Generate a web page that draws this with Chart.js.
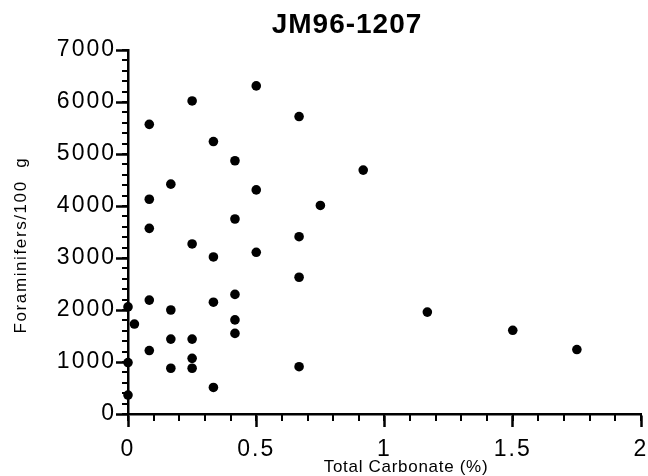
<!DOCTYPE html>
<html>
<head>
<meta charset="utf-8">
<script src="https://cdn.jsdelivr.net/npm/chart.js@4/dist/chart.umd.min.js"></script>
<style>
  html, body { margin: 0; padding: 0; background: #fff; }
  canvas { display: block; }
</style>
</head>
<body>
<canvas id="chart" width="648" height="476"></canvas>
<script>
// chart data
const chartTitle = 'JM96-1207';
const xTitle = 'Total Carbonate (%)';
const yTitle = 'Foraminifers/100  g';

const carbonate = [
  0, 0, 0,
  0.025,
  0.083, 0.083, 0.083, 0.083, 0.083,
  0.167, 0.167, 0.167, 0.167,
  0.25, 0.25, 0.25, 0.25, 0.25,
  0.333, 0.333, 0.333, 0.333,
  0.417, 0.417, 0.417, 0.417, 0.417,
  0.5, 0.5, 0.5,
  0.667, 0.667, 0.667, 0.667,
  0.75,
  0.917,
  1.167,
  1.5,
  1.75
];
const forams = [
  365, 990, 2060,
  1730,
  1220, 2190, 3570, 4130, 5570,
  880, 1440, 2000, 4420,
  880, 1070, 1440, 3270, 6020,
  510, 2150, 3020, 5240,
  1550, 1810, 2300, 3750, 4870,
  3110, 4310, 6310,
  910, 2630, 3410, 5720,
  4010,
  4690,
  1960,
  1610,
  1240
];

const xRange = [0, 2];
const yRange = [0, 7000];
const xMajor = 0.5, xMinor = 0.1;
const yMajor = 1000, yMinor = 200;

const points = carbonate.map((x, i) => ({ x: x, y: forams[i] }));

const FONT = '"Liberation Sans", Arial, Helvetica, sans-serif';

// minor ticks + hand placed titles
const axisDecor = {
  id: 'axisDecor',
  beforeDraw(chart) {
    chart.ctx.letterSpacing = '2px';
  },
  afterDraw(chart) {
    const ctx = chart.ctx;
    const xs = chart.scales.x, ys = chart.scales.y;
    const area = chart.chartArea;
    ctx.save();
    ctx.strokeStyle = '#000';
    ctx.lineWidth = 2;
    ctx.beginPath();
    for (let v = xs.min; v <= xs.max + 1e-9; v += xMinor) {
      const px = Math.round(xs.getPixelForValue(v));
      ctx.moveTo(px, area.bottom);
      ctx.lineTo(px, area.bottom + 7);
    }
    for (let v = ys.min; v <= ys.max + 1e-9; v += yMinor) {
      const py = Math.round(ys.getPixelForValue(v));
      ctx.moveTo(area.left, py);
      ctx.lineTo(area.left - 6, py);
    }
    ctx.stroke();

    ctx.fillStyle = '#000';
    ctx.textAlign = 'center';
    ctx.textBaseline = 'alphabetic';

    ctx.font = 'bold 28px ' + FONT;
    ctx.letterSpacing = '1px';
    ctx.fillText(chartTitle, 347, 33);

    ctx.font = '17px ' + FONT;
    ctx.letterSpacing = '0.7px';
    ctx.fillText(xTitle, 406, 472);

    ctx.translate(26, 245);
    ctx.rotate(-Math.PI / 2);
    ctx.letterSpacing = '1.6px';
    ctx.fillText(yTitle, 0, 0);
    ctx.restore();
  }
};

const ctx = document.getElementById('chart').getContext('2d');
new Chart(ctx, {
  type: 'scatter',
  data: {
    datasets: [{
      data: points,
      backgroundColor: '#000',
      borderColor: '#000',
      pointRadius: 4.8,
      pointHoverRadius: 4.8,
      borderWidth: 0,
      clip: false
    }]
  },
  options: {
    responsive: false,
    animation: false,
    devicePixelRatio: 1,
    layout: { padding: { top: 50, right: 0, left: 0, bottom: 0 } },
    plugins: {
      legend: { display: false },
      title: { display: false },
      tooltip: { enabled: false }
    },
    scales: {
      x: {
        type: 'linear',
        min: xRange[0],
        max: xRange[1],
        ticks: {
          stepSize: xMajor,
          color: '#000',
          padding: 9,
          maxRotation: 0,
          font: { family: FONT, size: 23 },
          callback: v => String(v)
        },
        grid: { drawOnChartArea: false, drawTicks: true, tickLength: 13, tickWidth: 2.5, tickColor: '#000' },
        border: { display: true, color: '#000', width: 2.5 },
        afterFit: s => { s.height = 62; s.paddingRight = 7; s.paddingLeft = 0; }
      },
      y: {
        type: 'linear',
        min: yRange[0],
        max: yRange[1],
        ticks: {
          stepSize: yMajor,
          color: '#000',
          padding: 0,
          font: { family: FONT, size: 23 },
          callback: v => String(v)
        },
        grid: { drawOnChartArea: false, drawTicks: true, tickLength: 12, tickWidth: 2.5, tickColor: '#000' },
        border: { display: true, color: '#000', width: 2.5 },
        afterFit: s => { s.width = 128; s.paddingTop = 0; s.paddingBottom = 0; }
      }
    }
  },
  plugins: [axisDecor]
});
</script>
</body>
</html>
